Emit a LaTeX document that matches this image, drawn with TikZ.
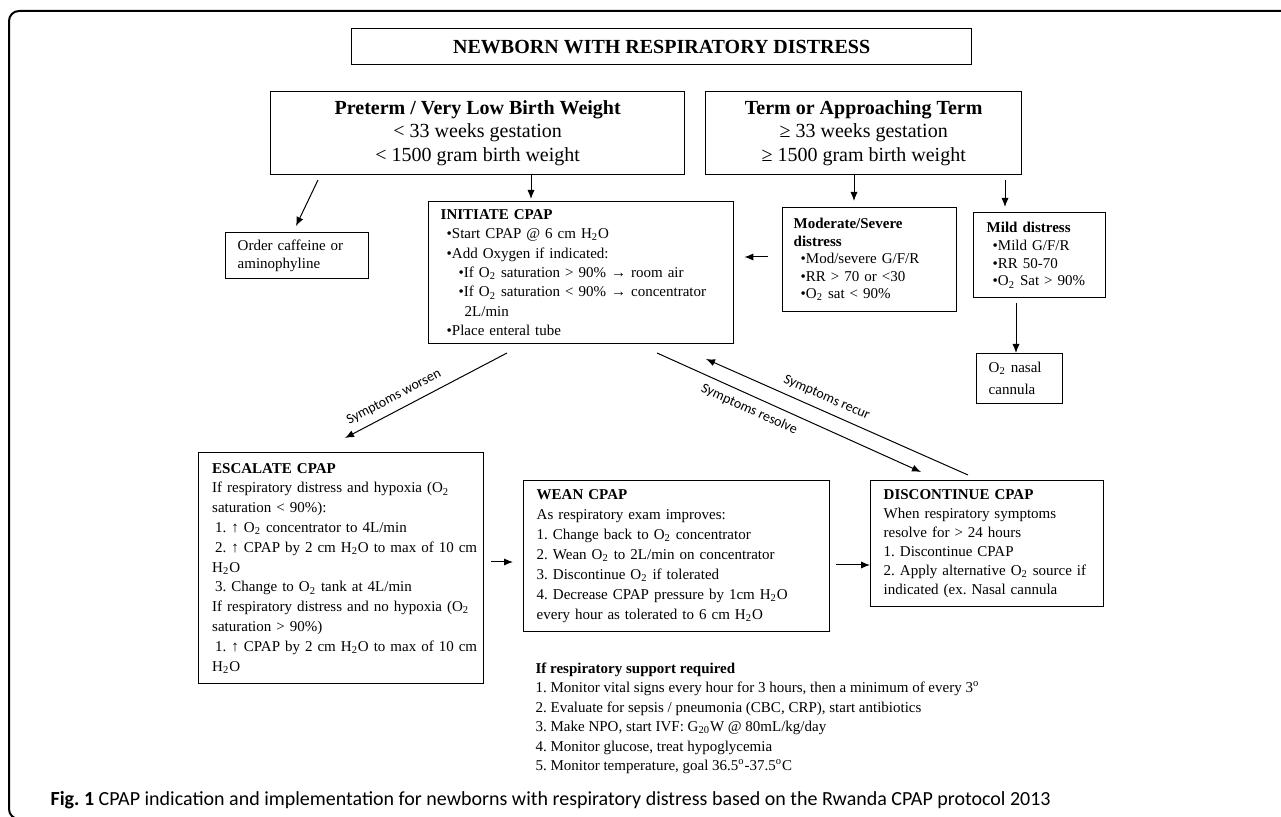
\documentclass[tikz,border=0pt]{standalone}
\usepackage{fontspec}
\setmainfont{Liberation Serif}
\newfontfamily\capfont{Carlito}
\usetikzlibrary{positioning,arrows.meta}
\newcommand{\Otwo}{O\textsubscript{2}}
\newcommand{\Htwo}{H\textsubscript{2}O}

\begin{document}
\frenchspacing
\begin{tikzpicture}[x=0.5pt, y=-0.5pt, semithick,
flow/.style={-{Latex[length=4.5pt,width=3.6pt]}, line width=0.5pt},
catbox/.style={rectangle, draw, line width=0.7pt, anchor=north west,
  align=center, inner sep=0pt, font=\fontsize{10}{11.75}\selectfont},
stepbox/.style={rectangle, draw, line width=0.7pt, anchor=north west,
  align=left, inner xsep=6pt, inner ysep=0pt, font=\fontsize{7.5}{9.8}\selectfont},
note/.style={sloped, inner sep=3.5pt, font=\capfont\fontsize{7}{8}\selectfont}
]
\useasboundingbox (0,0) rectangle (1281,817);
\clip (0,0) rectangle (1281,817);
\draw[line width=1pt, rounded corners=5pt] (1300,11) -- (9,11) -- (9,819) -- (1300,819);

\node[catbox, minimum width=310pt, minimum height=18pt,
  font=\bfseries\fontsize{10}{12}\selectfont] (title) at (351,28)
  {NEWBORN WITH RESPIRATORY DISTRESS};
\node[catbox, minimum width=207pt, minimum height=41.5pt] (preterm) at (270,91)
  {\textbf{Preterm / Very Low Birth Weight}\\< 33 weeks gestation\\< 1500 gram birth weight};
\node[catbox, minimum width=158pt, minimum height=41.5pt] (term) at (705,91)
  {\textbf{Term or Approaching Term}\\≥ 33 weeks gestation\\≥ 1500 gram birth weight};

\node[stepbox, text width=140.5pt, minimum height=71pt,
  font=\fontsize{7.5}{9.7}\selectfont] (init) at (428,201)
  {\textbf{INITIATE CPAP}\\
   \hspace*{3pt}•Start CPAP @ 6 cm \Htwo\\
   \hspace*{3pt}•Add Oxygen if indicated:\\
   \hspace*{9pt}•If \Otwo{} saturation > 90\% → room air\\
   \hspace*{9pt}•If \Otwo{} saturation < 90\% → concentrator\\
   \hspace*{12pt}2L/min\\
   \hspace*{3pt}•Place enteral tube};
\node[stepbox, inner xsep=5.5pt, text width=76pt, minimum height=52pt,
  font=\fontsize{7.5}{8.75}\selectfont] (mod) at (782,207)
  {\textbf{Moderate/Severe}\\\textbf{distress}\\
   \hspace*{3.5pt}•Mod/severe G/F/R\\
   \hspace*{3.5pt}•RR > 70 or <30\\
   \hspace*{3.5pt}•\Otwo{} sat < 90\%};
\node[stepbox, inner xsep=6.5pt, text width=53pt, minimum height=42.5pt,
  font=\fontsize{7.5}{8.85}\selectfont] (mild) at (973,212)
  {\textbf{Mild distress}\\
   \hspace*{3pt}•Mild G/F/R\\
   \hspace*{3pt}•RR 50-70\\
   \hspace*{3pt}•\Otwo{} Sat > 90\%};
\node[stepbox, text width=31pt, minimum height=25pt,
  font=\fontsize{7.5}{11}\selectfont] (nasal) at (976,353)
  {\Otwo{} nasal\\cannula};
\node[stepbox, text width=59.5pt, minimum height=23pt,
  font=\fontsize{7.5}{8.8}\selectfont] (order) at (225,232)
  {Order caffeine or\\aminophyline};

\node[stepbox, inner xsep=6.75pt, text width=129pt, minimum height=115.5pt,
  font=\fontsize{7.5}{9.9}\selectfont] (escalate) at (198,452)
  {\textbf{ESCALATE CPAP}\\
   \mbox{If respiratory distress and hypoxia (\Otwo}\\
   saturation < 90\%):\\
   \hspace*{1.5pt}1. ↑ \Otwo{} concentrator to 4L/min\\
   \mbox{\hspace*{1.5pt}2. ↑ CPAP by 2 cm \Htwo{} to max of 10 cm}\\
   \Htwo\\
   \hspace*{1.5pt}3. Change to \Otwo{} tank at 4L/min\\
   \mbox{If respiratory distress and no hypoxia (\Otwo}\\
   saturation > 90\%)\\
   \mbox{\hspace*{1.5pt}1. ↑ CPAP by 2 cm \Htwo{} to max of 10 cm}\\
   \Htwo};
\node[stepbox, inner xsep=6.5pt, text width=140pt, minimum height=75.5pt,
  font=\fontsize{7.5}{10}\selectfont] (wean) at (523,480)
  {\textbf{WEAN CPAP}\\
   As respiratory exam improves:\\
   1. Change back to \Otwo{} concentrator\\
   2. Wean \Otwo{} to 2L/min on concentrator\\
   3. Discontinue \Otwo{} if tolerated\\
   4. Decrease CPAP pressure by 1cm \Htwo\\
   every hour as tolerated to 6 cm \Htwo};
\node[stepbox, inner xsep=6.5pt, text width=103.5pt, minimum height=63pt,
  font=\fontsize{7.5}{9.5}\selectfont] (disc) at (870,480)
  {\textbf{DISCONTINUE CPAP}\\
   When respiratory symptoms\\
   resolve for > 24 hours\\
   1. Discontinue CPAP\\
   2. Apply alternative \Otwo{} source if\\
   indicated (ex. Nasal cannula};

\node[anchor=north west, inner sep=0pt, align=left,
  font=\fontsize{7.5}{9.75}\selectfont] (support) at (535,662)
  {\textbf{If respiratory support required}\\
   1. Monitor vital signs every hour for 3 hours, then a minimum of every 3\textsuperscript{o}\\
   2. Evaluate for sepsis / pneumonia (CBC, CRP), start antibiotics\\
   3. Make NPO, start IVF: G\textsubscript{20}W @ 80mL/kg/day\\
   4. Monitor glucose, treat hypoglycemia\\
   5. Monitor temperature, goal 36.5\textsuperscript{o}-37.5\textsuperscript{o}C};
\node[anchor=west, inner sep=0pt, font=\capfont\fontsize{10}{12}\selectfont]
  (caption) at (50,800)
  {\textbf{Fig. 1} CPAP indication and implementation for newborns with respiratory distress based on the Rwanda CPAP protocol 2013};

\coordinate (preDown) at (531,0);
\coordinate (termDown) at (854,0);
\coordinate (mildIn) at (1005,180);
\coordinate (orderFrom) at (318,180);
\coordinate (orderTo) at (296,226);
\coordinate (modOut) at (768,257);
\coordinate (mildOut) at (1016,303);
\coordinate (worseFrom) at (507,353);
\coordinate (worseTo) at (345,438);
\coordinate (resolveFrom) at (657,353);
\coordinate (resolveTo) at (921,472);
\coordinate (recurFrom) at (968,475);
\coordinate (recurTo) at (706,359);
\coordinate (escOut) at (491,562);
\coordinate (weanOut) at (836,565);

\draw[flow, shorten >=1pt] (preterm.south -| preDown) -- (init.north -| preDown);
\draw[flow, shorten >=3pt] (term.south -| termDown) -- (mod.north -| termDown);
\draw[flow, shorten >=2.5pt] (mildIn) -- (mildIn |- mild.north);
\draw[flow] (orderFrom) -- (orderTo);
\draw[flow, shorten >=5pt] (modOut) -- (modOut -| init.east);
\draw[flow] (mildOut) -- (mildOut |- nasal.north);
\draw[flow] (worseFrom) -- node[note, above, pos=0.66] {Symptoms worsen} (worseTo);
\draw[flow] (resolveFrom) -- node[note, below, pos=0.37] {Symptoms resolve} (resolveTo);
\draw[flow] (recurFrom) -- node[note, above, pos=0.56] {Symptoms recur} (recurTo);
\draw[flow, shorten >=5pt] (escOut) -- (escOut -| wean.west);
\draw[flow] (weanOut) -- (weanOut -| disc.west);
\end{tikzpicture}
\end{document}
